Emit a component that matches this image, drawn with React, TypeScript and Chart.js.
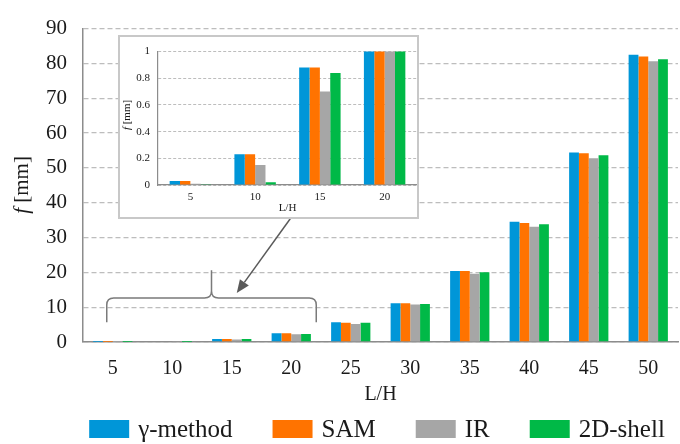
import React, { useEffect, useRef } from 'react';
import { Chart, registerables } from 'chart.js';

Chart.register(...registerables);

// L/H ratios on the category axis
const ratios = ['5', '10', '15', '20', '25', '30', '35', '40', '45', '50'];

// Mid-span deflection f [mm] for each method
const gammaMethod = [0.03, 0.23, 0.88, 2.5, 5.7, 11.1, 20.4, 34.5, 54.4, 82.5];
const samValues = [0.03, 0.23, 0.88, 2.5, 5.5, 11.1, 20.4, 34.2, 54.2, 82.0];
const irValues = [0.01, 0.15, 0.70, 2.2, 5.2, 10.8, 19.6, 33.1, 52.8, 80.6];
const shellValues = [0.005, 0.02, 0.84, 2.3, 5.5, 10.9, 20.0, 33.8, 53.6, 81.2];

const seriesNames = ['γ-method', 'SAM', 'IR', '2D-shell'];
const seriesColors = ['#0096d8', '#ff7300', '#a6a6a6', '#00b947'];

// Number of leading ratios shown in the magnified inset
const insetCount = 4;
const mainMax = 90;
const mainStep = 10;
const insetMax = 1;
const insetStep = 0.2;

const SERIF = '"Liberation Serif", "Times New Roman", serif';
const TEXT = '#1a1a1a';
const AXIS = '#8c8c8c';
const GRID = '#bdbdbd';

const allSeries = [gammaMethod, samValues, irValues, shellValues];

function makeDatasets(count: number) {
  return allSeries.map((vals, i) => ({
    label: seriesNames[i],
    data: vals.slice(0, count),
    backgroundColor: seriesColors[i],
    borderWidth: 0,
  }));
}

// Rotated "f [mm]" with an italic f
function yTitle(id: string, cx: number, cy: number, size: number) {
  return {
    id,
    afterDraw(chart: any) {
      const ctx = chart.ctx;
      ctx.save();
      ctx.translate(cx, cy);
      ctx.rotate(-Math.PI / 2);
      ctx.fillStyle = TEXT;
      ctx.textBaseline = 'middle';
      ctx.textAlign = 'left';
      const fi = `italic ${size}px ${SERIF}`;
      const fn = `${size}px ${SERIF}`;
      ctx.font = fi;
      const wf = ctx.measureText('f').width;
      ctx.font = fn;
      const rest = ' [mm]';
      const wr = ctx.measureText(rest).width;
      const start = -(wf + wr) / 2;
      ctx.font = fi;
      ctx.fillText('f', start, 0);
      ctx.font = fn;
      ctx.fillText(rest, start + wf, 0);
      ctx.restore();
    },
  };
}

// Legend row drawn under the axis title
const legendRow = {
  id: 'legendRow',
  afterDraw(chart: any) {
    const ctx = chart.ctx;
    const size = 25;
    const boxW = 40;
    const boxH = 18;
    const gapText = 9;
    const gapItem = 40;
    const cy = 429;
    ctx.save();
    ctx.font = `${size}px ${SERIF}`;
    const widths = seriesNames.map((n) => ctx.measureText(n).width);
    const total =
      widths.reduce((a, w) => a + boxW + gapText + w, 0) + gapItem * (seriesNames.length - 1);
    let x = 377 - total / 2;
    ctx.textBaseline = 'middle';
    ctx.textAlign = 'left';
    seriesNames.forEach((n, i) => {
      ctx.fillStyle = seriesColors[i];
      ctx.fillRect(x, cy - boxH / 2, boxW, boxH);
      ctx.fillStyle = TEXT;
      ctx.fillText(n, x + boxW + gapText, cy + 1);
      x += boxW + gapText + widths[i] + gapItem;
    });
    ctx.restore();
  },
};

// Brace over the small ratios and the arrow pointing to it from the inset
const braceArrow = {
  id: 'braceArrow',
  afterDraw(chart: any) {
    const xs = chart.scales.x;
    const ys = chart.scales.y;
    const ctx = chart.ctx;
    const left = xs.getPixelForValue(0) - 6;
    const right = xs.getPixelForValue(insetCount - 1) + 25;
    const mid = (left + right) / 2;
    const yEnd = ys.getPixelForValue(5.7);
    const yBar = ys.getPixelForValue(12.6);
    const yPeak = ys.getPixelForValue(20.6);
    const r = 7;
    ctx.save();
    ctx.strokeStyle = '#7a7a7a';
    ctx.lineWidth = 1.5;
    ctx.beginPath();
    ctx.moveTo(left, yEnd);
    ctx.lineTo(left, yBar + r);
    ctx.quadraticCurveTo(left, yBar, left + r, yBar);
    ctx.lineTo(mid - r, yBar);
    ctx.quadraticCurveTo(mid, yBar, mid, yBar - r);
    ctx.lineTo(mid, yPeak);
    ctx.moveTo(mid, yBar - r);
    ctx.quadraticCurveTo(mid, yBar, mid + r, yBar);
    ctx.lineTo(right - r, yBar);
    ctx.quadraticCurveTo(right, yBar, right, yBar + r);
    ctx.lineTo(right, yEnd);
    ctx.stroke();

    // arrow
    const x0 = xs.getPixelForValue(insetCount - 1) - 1;
    const y0 = ys.getPixelForValue(35.4);
    const x1 = xs.getPixelForValue(insetCount - 2) + 5;
    const y1 = ys.getPixelForValue(14.1);
    const ang = Math.atan2(y1 - y0, x1 - x0);
    const head = 13;
    const half = 5.5;
    const bx = x1 - head * Math.cos(ang);
    const by = y1 - head * Math.sin(ang);
    ctx.strokeStyle = '#5a5a5a';
    ctx.fillStyle = '#5a5a5a';
    ctx.lineWidth = 1.5;
    ctx.beginPath();
    ctx.moveTo(x0, y0);
    ctx.lineTo(bx, by);
    ctx.stroke();
    ctx.beginPath();
    ctx.moveTo(x1, y1);
    ctx.lineTo(bx + half * Math.sin(ang), by - half * Math.cos(ang));
    ctx.lineTo(bx - half * Math.sin(ang), by + half * Math.cos(ang));
    ctx.closePath();
    ctx.fill();
    ctx.restore();
  },
};

export default function App() {
  const mainRef = useRef<HTMLCanvasElement | null>(null);
  const insetRef = useRef<HTMLCanvasElement | null>(null);

  useEffect(() => {
    if (!mainRef.current || !insetRef.current) return;

    const main = new Chart(mainRef.current, {
      type: 'bar',
      data: { labels: ratios, datasets: makeDatasets(ratios.length) as any },
      options: {
        responsive: false,
        animation: false,
        events: [],
        layout: { padding: { left: 0, right: 2, top: 27, bottom: 36 } },
        datasets: { bar: { categoryPercentage: 0.66, barPercentage: 1 } },
        plugins: { legend: { display: false }, tooltip: { enabled: false } },
        scales: {
          x: {
            grid: { display: false, drawTicks: false },
            border: { display: true, color: AXIS, width: 1.5 },
            ticks: { font: { family: SERIF, size: 20 }, color: TEXT, padding: 15, maxRotation: 0 },
            title: {
              display: true,
              text: 'L/H',
              font: { family: SERIF, size: 20 },
              color: TEXT,
              padding: { top: 0, bottom: 1 },
            },
            afterFit: (s: any) => {
              s.height = 66;
            },
          },
          y: {
            min: 0,
            max: mainMax,
            ticks: { stepSize: mainStep, font: { family: SERIF, size: 21 }, color: TEXT, padding: 16 },
            grid: { color: GRID, lineWidth: 1.3, drawTicks: false },
            border: { display: true, color: AXIS, width: 1.5, dash: [5, 3] },
            afterFit: (s: any) => {
              s.width = 83;
            },
          },
        },
      } as any,
      plugins: [yTitle('mainYTitle', 22.5, 185, 21), legendRow, braceArrow],
    });

    const inset = new Chart(insetRef.current, {
      type: 'bar',
      data: { labels: ratios.slice(0, insetCount), datasets: makeDatasets(insetCount) as any },
      options: {
        responsive: false,
        animation: false,
        events: [],
        layout: { padding: { left: 0, right: 0, top: 10, bottom: 0 } },
        datasets: { bar: { categoryPercentage: 0.64, barPercentage: 1 } },
        plugins: { legend: { display: false }, tooltip: { enabled: false } },
        scales: {
          x: {
            grid: { display: false, drawTicks: false },
            border: { display: true, color: AXIS, width: 1.2 },
            ticks: { font: { family: SERIF, size: 11 }, color: TEXT, padding: 6, maxRotation: 0 },
            title: {
              display: true,
              text: 'L/H',
              font: { family: SERIF, size: 11 },
              color: TEXT,
              padding: { top: 0, bottom: 2 },
            },
            afterFit: (s: any) => {
              s.height = 32;
            },
          },
          y: {
            min: 0,
            max: insetMax,
            ticks: {
              stepSize: insetStep,
              font: { family: SERIF, size: 11 },
              color: TEXT,
              padding: 8,
              callback: (v: any) => String(Math.round(Number(v) * 10) / 10),
            },
            grid: { color: GRID, lineWidth: 1, drawTicks: false },
            border: { display: true, color: AXIS, width: 1.2, dash: [3, 2] },
            afterFit: (s: any) => {
              s.width = 38;
            },
          },
        },
      } as any,
      plugins: [yTitle('insetYTitle', 7, 78, 11)],
    });

    return () => {
      main.destroy();
      inset.destroy();
    };
  }, []);

  return (
    <div
      style={{
        position: 'fixed',
        left: 0,
        top: 0,
        width: 680,
        height: 444,
        background: '#ffffff',
      }}
    >
      <canvas ref={mainRef} width={680} height={444} style={{ display: 'block', width: 680, height: 444 }} />
      <div
        style={{
          position: 'absolute',
          left: 118,
          top: 35,
          width: 301,
          height: 184,
          boxSizing: 'border-box',
          border: '2px solid #c8c8c8',
          background: '#ffffff',
        }}
      >
        <canvas ref={insetRef} width={297} height={180} style={{ display: 'block', width: 297, height: 180 }} />
      </div>
    </div>
  );
}
